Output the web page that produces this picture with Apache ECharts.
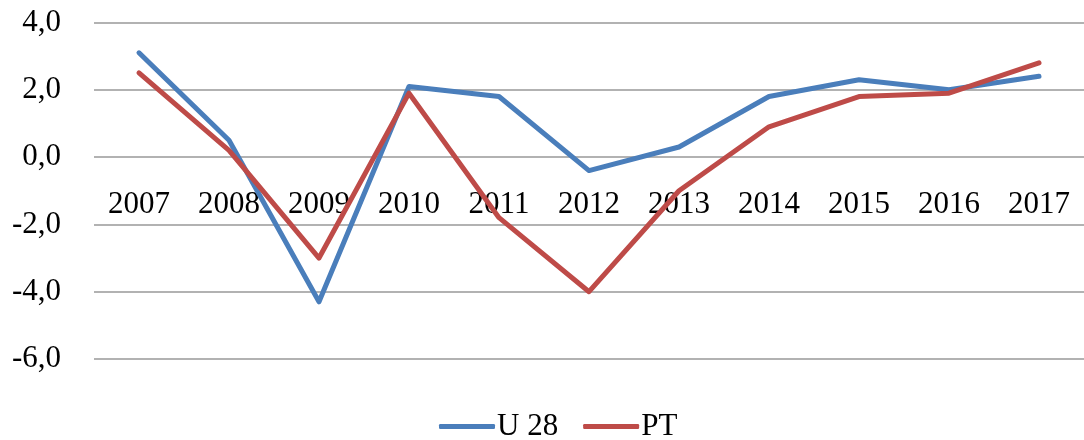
<!DOCTYPE html>
<html lang="en">
<head>
    <meta charset="UTF-8">
    <script src="https://cdn.jsdelivr.net/npm/echarts@6/dist/echarts.min.js"></script>
    <title>U 28 / PT</title>
</head>
<body style="margin:0">
    <div id="main" style="width:1084px;height:440px;background:#fff"></div>
    <script>
var years = ['2007', '2008', '2009', '2010', '2011', '2012', '2013', '2014', '2015', '2016', '2017'];
var u28 = [3.1, 0.5, -4.3, 2.1, 1.8, -0.4, 0.3, 1.8, 2.3, 2.0, 2.4];
var pt = [2.5, 0.2, -3.0, 1.9, -1.8, -4.0, -1.0, 0.9, 1.8, 1.9, 2.8];

var font = 'Liberation Serif';
var myChart = echarts.init(document.getElementById('main'));

var option = {
  backgroundColor: '#fff',
  animation: false,
  textStyle: { fontFamily: font },
  grid: { left: 94, right: 0, top: 22.5, bottom: 81 },
  legend: {
    top: 406,
    left: 434,
    icon: 'roundRect',
    itemWidth: 56,
    itemHeight: 5,
    itemGap: 25,
    textStyle: { fontFamily: font, fontSize: 31, color: '#000', padding: [0, 0, 0, -3] },
    data: ['U 28', 'PT']
  },
  xAxis: {
    type: 'category',
    data: years,
    boundaryGap: true,
    position: 'bottom',
    offset: -202,
    axisLine: { show: false },
    axisTick: { show: false },
    axisLabel: { color: '#000', fontFamily: font, fontSize: 31, margin: 32, interval: 0 }
  },
  yAxis: {
    type: 'value',
    min: -6,
    max: 4,
    interval: 2,
    axisLine: { show: false },
    axisTick: { show: false },
    splitLine: { lineStyle: { color: '#999', width: 1.5 } },
    axisLabel: {
      color: '#000', fontFamily: font, fontSize: 31, margin: 33,
      formatter: function (v) { return v.toFixed(1).replace('.', ','); }
    }
  },
  series: [
    {
      name: 'U 28', type: 'line', data: u28, symbol: 'none',
      itemStyle: { color: '#4a7ebb' },
      lineStyle: { color: '#4a7ebb', width: 5, cap: 'round', join: 'round' }
    },
    {
      name: 'PT', type: 'line', data: pt, symbol: 'none',
      itemStyle: { color: '#be4b48' },
      lineStyle: { color: '#be4b48', width: 5, cap: 'round', join: 'round' }
    }
  ]
};
myChart.setOption(option);
    </script>
</body>
</html>
